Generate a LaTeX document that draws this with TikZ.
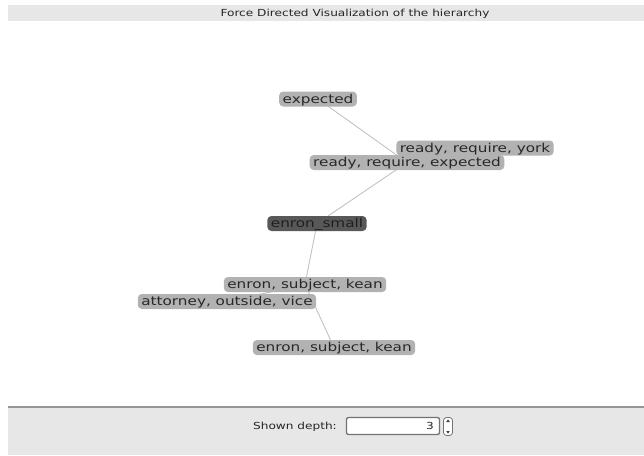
\documentclass[tikz,border=0pt]{standalone}
\usepackage{fontspec}
\setmainfont[FakeStretch=1.25]{DejaVu Sans}
\usetikzlibrary{backgrounds}
\definecolor{nodegray}{RGB}{178,178,178}
\definecolor{rootgray}{RGB}{88,88,88}
\definecolor{edgegray}{RGB}{195,195,195}
\definecolor{txtgray}{RGB}{40,40,40}
\definecolor{panelgray}{RGB}{231,231,231}
\definecolor{linegray}{RGB}{150,150,150}
\tikzset{
  word/.style={fill=nodegray, rounded corners=4pt, inner sep=0pt, inner xsep=3.5pt,
    minimum height=15pt, text height=10.4pt, text depth=2pt, text=txtgray,
    font=\fontsize{12.2}{12}\selectfont},
  rootword/.style={word, fill=rootgray, text=black!88},
  link/.style={draw=edgegray, line width=0.9pt},
  uitext/.style={font=\fontsize{9.7}{10}\selectfont, text=black!85, inner sep=0pt}
}
\begin{document}
\begin{tikzpicture}[x=1pt,y=-1pt]
\useasboundingbox (0,0) rectangle (644,455);
\begin{scope}[on background layer]
\fill[white] (0,0) rectangle (644,455);
\fill[panelgray] (8,5) rectangle (644,21);
\fill[panelgray] (8,407) rectangle (644,455);
\draw[linegray, line width=1.2pt] (8,407) -- (644,407);
\end{scope}
\node[uitext] (title) at (355,13.5) {Force Directed Visualization of the hierarchy};
% nodes
\node[word] (exp) at (318,99) {expected};
\node[word] (york) at (475,148) {ready, require, york};
\node[word] (rre) at (407,162.5) {ready, require, expected};
\node[rootword] (root) at (317,223.5) {enron\_small};
\node[word] (esk1) at (305,284.5) {enron, subject, kean};
\node[word] (att) at (227,301.5) {attorney, outside, vice};
\node[word] (esk2) at (334,347.5) {enron, subject, kean};
% edges behind nodes
\begin{scope}[on background layer]
\draw[link] (root.center) -- (rre.center);
\draw[link] (rre.center) -- (exp.center);
\draw[link] (rre.center) -- (york.center);
\draw[link] (root.center) -- (esk1.center);
\draw[link] (esk1.center) -- (att.center);
\draw[link] (esk1.center) -- (esk2.center);
\end{scope}
% controls
\node[uitext, anchor=east] (lbl) at (337,426.5) {Shown depth:};
\node[draw=black!55, line width=1.3pt, fill=white, rounded corners=2pt,
  minimum width=93pt, minimum height=17pt, inner sep=0pt] (box) at (393,426) {};
\node[uitext, anchor=east] (val) at ([xshift=-6pt]box.east) {3};
\node[draw=black!55, line width=0.8pt, fill=white, rounded corners=3pt,
  minimum width=9pt, minimum height=18pt, inner sep=0pt] (spin) at (448,426.5) {};
\fill[black!75] ([yshift=-4.5pt]spin.center) ++(-1.8pt,0) -- ++(3.6pt,0) -- ++(-1.8pt,-2.6pt) -- cycle;
\fill[black!75] ([yshift=4.5pt]spin.center) ++(-1.8pt,0) -- ++(3.6pt,0) -- ++(-1.8pt,2.6pt) -- cycle;
\end{tikzpicture}
\end{document}
